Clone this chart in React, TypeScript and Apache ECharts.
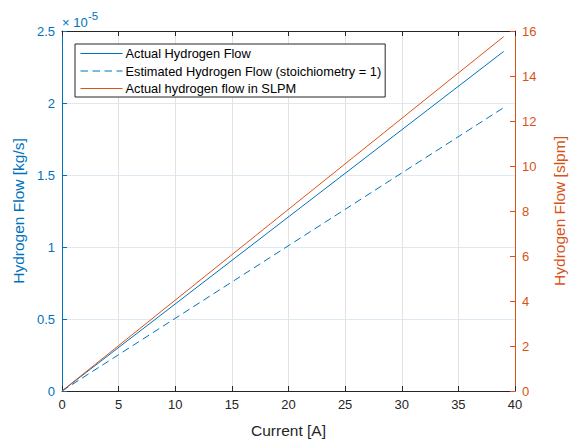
import React, { useEffect, useRef } from "react";
import * as echarts from "echarts";

const current = [0, 39];
const actualH2 = [0, 2.358e-5];
const estimatedH2 = [0, 1.968e-5];
const actualSlpm = [0, 15.75];
const seriesNames = [
  "Actual Hydrogen Flow",
  "Estimated Hydrogen Flow (stoichiometry = 1)",
  "Actual hydrogen flow in SLPM",
];
const xTicks = { min: 0, max: 40, interval: 5 };
const leftTicks = { min: 0, max: 2.5e-5, interval: 0.5e-5 };
const rightTicks = { min: 0, max: 16, interval: 2 };

const BLUE = "#0072BD";
const ORANGE = "#D95319";
const DARK = "#262626";
const FONT = "Liberation Sans, Arial, sans-serif";

export default function App() {
  const ref = useRef<HTMLDivElement>(null);
  useEffect(() => {
    if (!ref.current) return;
    const chart = echarts.init(ref.current, undefined, { renderer: "svg" });
    const pair = (ys: number[]) => current.map((x, i) => [x, ys[i]]);
    chart.setOption({
      animation: false,
      backgroundColor: "#ffffff",
      textStyle: { fontFamily: FONT },
      grid: { left: 62, right: 52, top: 31, bottom: 48.5, containLabel: false },
      legend: {
        orient: "vertical",
        left: 75,
        top: 44,
        backgroundColor: "#ffffff",
        borderColor: DARK,
        borderWidth: 1,
        borderRadius: 0,
        padding: [3, 4, 2, 5],
        itemGap: 4.5,
        itemWidth: 42,
        itemHeight: 14,
        itemStyle: { opacity: 0 },
        lineStyle: { width: 1 },
        textStyle: { fontFamily: FONT, fontSize: 12.8, color: "#000", padding: [0, 0, 0, -2] },
        data: seriesNames,
      },
      xAxis: [
        {
          type: "value",
          min: xTicks.min,
          max: xTicks.max,
          interval: xTicks.interval,
          name: "Current [A]",
          nameLocation: "middle",
          nameGap: 31,
          nameTextStyle: { fontFamily: FONT, fontSize: 15.5, color: DARK },
          axisLine: { show: true, onZero: false, lineStyle: { color: DARK, width: 1 } },
          axisTick: { show: true, inside: true, length: 5, lineStyle: { color: DARK } },
          axisLabel: { fontFamily: FONT, fontSize: 13, color: DARK, margin: 7 },
          splitLine: { show: true, lineStyle: { color: "#e3e3e3", width: 1 } },
        },
        {
          type: "value",
          position: "top",
          min: xTicks.min,
          max: xTicks.max,
          interval: xTicks.interval,
          axisLine: { show: true, onZero: false, lineStyle: { color: DARK, width: 1 } },
          axisTick: { show: true, inside: true, length: 5, lineStyle: { color: DARK } },
          axisLabel: { show: false },
          splitLine: { show: false },
        },
      ],
      yAxis: [
        {
          type: "value",
          position: "left",
          min: leftTicks.min,
          max: leftTicks.max,
          interval: leftTicks.interval,
          name: "Hydrogen Flow [kg/s]",
          nameLocation: "middle",
          nameGap: 32,
          nameRotate: 90,
          nameTextStyle: { fontFamily: FONT, fontSize: 15.5, color: BLUE },
          axisLine: { show: true, onZero: false, lineStyle: { color: BLUE, width: 1 } },
          axisTick: { show: true, inside: true, length: 5, lineStyle: { color: BLUE } },
          axisLabel: {
            fontFamily: FONT,
            fontSize: 13,
            color: BLUE,
            margin: 7,
            formatter: (v: number) => String(Math.round(v / 1e-6) / 10),
          },
          splitLine: { show: true, lineStyle: { color: "#dfe9f2", width: 1 } },
        },
        {
          type: "value",
          position: "right",
          min: rightTicks.min,
          max: rightTicks.max,
          interval: rightTicks.interval,
          name: "Hydrogen Flow [slpm]",
          nameLocation: "middle",
          nameGap: 36,
          nameRotate: 90,
          nameTextStyle: { fontFamily: FONT, fontSize: 15.5, color: ORANGE },
          axisLine: { show: true, onZero: false, lineStyle: { color: ORANGE, width: 1 } },
          axisTick: { show: true, inside: true, length: 5, lineStyle: { color: ORANGE } },
          axisLabel: { fontFamily: FONT, fontSize: 13, color: ORANGE, margin: 7 },
          splitLine: { show: false },
        },
      ],
      graphic: [
        {
          type: "text",
          left: 62,
          top: 16,
          style: { text: "\u00d7 10", fontFamily: FONT, fontSize: 13, fill: BLUE },
        },
        {
          type: "text",
          left: 88,
          top: 10,
          style: { text: "-5", fontFamily: FONT, fontSize: 11.5, fill: BLUE },
        },
      ],
      series: [
        {
          name: seriesNames[0],
          type: "line",
          yAxisIndex: 0,
          symbol: "none",
          data: pair(actualH2),
          itemStyle: { color: BLUE },
          lineStyle: { color: BLUE, width: 1 },
        },
        {
          name: seriesNames[1],
          type: "line",
          yAxisIndex: 0,
          symbol: "none",
          data: pair(estimatedH2),
          itemStyle: { color: BLUE },
          lineStyle: { color: BLUE, width: 1, type: [7.5, 4.5] },
        },
        {
          name: seriesNames[2],
          type: "line",
          yAxisIndex: 1,
          symbol: "none",
          data: pair(actualSlpm),
          itemStyle: { color: ORANGE },
          lineStyle: { color: ORANGE, width: 1 },
        },
      ],
    });
    return () => chart.dispose();
  }, []);
  return <div ref={ref} style={{ width: 575, height: 443, position: "absolute", left: 0, top: 0 }} />;
}
